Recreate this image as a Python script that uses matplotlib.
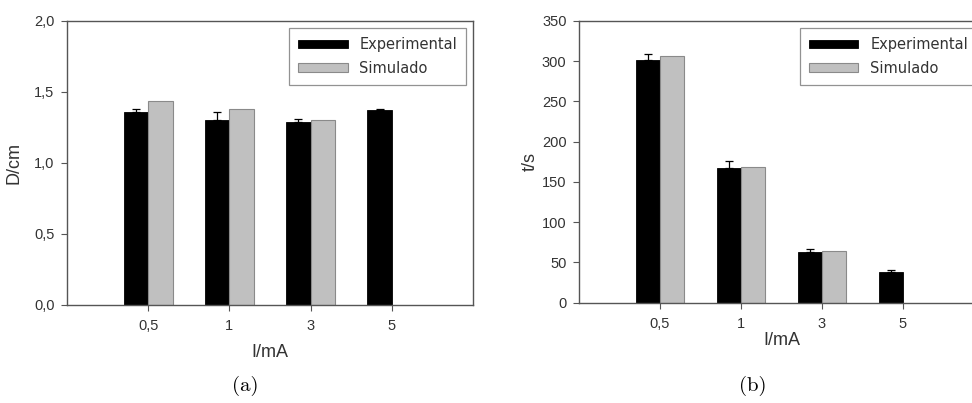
import numpy as np
import matplotlib
matplotlib.use("Agg")
import matplotlib.pyplot as plt

# Corrente aplicada (categorias)
corrente = ["0,5", "1", "3", "5"]

# (a) distancia D/cm
D_exp = [1.36, 1.30, 1.29, 1.37]
D_exp_err = [0.02, 0.06, 0.02, 0.01]
D_sim = [1.44, 1.38, 1.30, np.nan]

# (b) tempo t/s
t_exp = [302, 167, 63, 38]
t_exp_err = [7, 9, 4, 2]
t_sim = [306, 168, 64, np.nan]

D_ticks = [0.0, 0.5, 1.0, 1.5, 2.0]
D_ticklabels = ["0,0", "0,5", "1,0", "1,5", "2,0"]
t_ticks = [0, 50, 100, 150, 200, 250, 300, 350]

plt.rcParams["font.family"] = ["Liberation Sans", "DejaVu Sans"]

fig = plt.figure(figsize=(9.72, 4.03), dpi=100)
axA = fig.add_axes([0.0689, 0.2432, 0.4177, 0.7047])
axB = fig.add_axes([0.5957, 0.2489, 0.4166, 0.6990])

w = 0.3
frame = "#555555"
txt = "#333333"


def barras(ax, exp, err, sim, ylim, yticks, yticklabels, ylabel):
    x = np.arange(len(corrente))
    ax.bar(x - w / 2, exp, w, color="black", edgecolor="black",
           linewidth=0.6, label="Experimental", zorder=2)
    ax.errorbar(x - w / 2, exp, yerr=[np.zeros(len(err)), err], fmt="none",
                ecolor="black", elinewidth=0.9, capsize=3, capthick=0.9,
                zorder=3)
    ax.bar(x + w / 2, sim, w, color="#c0c0c0", edgecolor="#8a8a8a",
           linewidth=0.8, label="Simulado", zorder=2)
    ax.set_xlim(-1, 4)
    ax.set_ylim(*ylim)
    ax.set_xticks(x)
    ax.set_xticklabels(corrente)
    ax.set_yticks(yticks)
    ax.set_yticklabels(yticklabels)
    ax.tick_params(direction="out", length=4, width=0.8, color=frame,
                   labelsize=10.5, labelcolor=txt, pad=5)
    ax.tick_params(axis="x", pad=6)
    for s in ax.spines.values():
        s.set_color(frame)
        s.set_linewidth(1.0)
    ax.set_ylabel(ylabel, fontsize=13, color=txt)
    leg = ax.legend(loc="upper right", frameon=True,
                    fancybox=False, edgecolor="#777777", handlelength=3.4,
                    handleheight=0.5, borderpad=0.6, labelspacing=0.6,
                    prop={"family": "DejaVu Sans", "size": 10.5})
    leg.get_frame().set_linewidth(0.9)
    for t in leg.get_texts():
        t.set_color(txt)
    return leg


barras(axA, D_exp, D_exp_err, D_sim, (0, 2.0), D_ticks, D_ticklabels, "D/cm")
axA.set_xlabel("I/mA", fontsize=13, color=txt, labelpad=8)
axA.yaxis.set_label_coords(-0.11, 0.5)

barras(axB, t_exp, t_exp_err, t_sim, (0, 350), t_ticks,
       [str(v) for v in t_ticks], "t/s")
axB.set_xlabel("I/mA", fontsize=13, color=txt, labelpad=1)
axB.yaxis.set_label_coords(-0.1, 0.5)
axB.get_legend().set_bbox_to_anchor((1.0, 1.0))

fig.text(0.252, 0.03, "(a)", fontsize=15, family="cmr10", ha="center")
fig.text(0.774, 0.03, "(b)", fontsize=15, family="cmr10", ha="center")

fig.savefig("out.png", dpi=100)
